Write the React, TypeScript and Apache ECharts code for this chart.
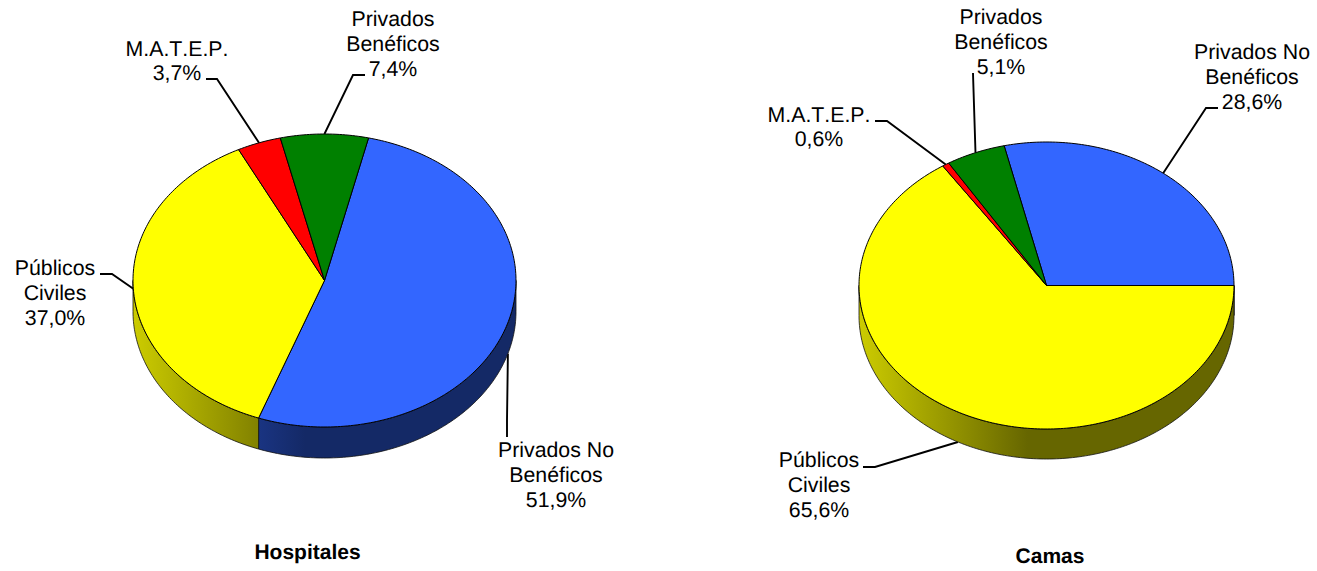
import React, { useEffect, useRef } from "react";
import * as echarts from "echarts";

const categories = ["Privados No\nBenéficos", "Públicos\nCiviles", "M.A.T.E.P.", "Privados\nBenéficos"];
const hospitalesValues = [51.9, 37.0, 3.7, 7.4];
const camasValues = [28.6, 65.6, 0.6, 5.1];
const sliceColors = [[0x33, 0x66, 0xff], [0xff, 0xff, 0x00], [0xff, 0x00, 0x00], [0x00, 0x80, 0x00]];

const FONT = "Liberation Sans";
const FONT_SIZE = 21.3;
const LINE_HEIGHT = 24.6;

const pies = [
  {
    title: "Hospitales", titleX: 307.5, titleY: 552,
    values: hospitalesValues,
    cx: 324.5, cy: 280.5, rx: 191.5, ry: 146.5, depth: 31, startAngle: 13.3,
    labelPos: [[556, 475], [55, 293], [177, 61], [393, 44]],
    leaderPts: [
      [[507, 437], [507, 420]],
      [[100, 274], [112, 274]],
      [[206, 79], [217, 79]],
      [[365, 75], [353, 75]],
    ],
  },
  {
    title: "Camas", titleX: 1050, titleY: 556,
    values: camasValues,
    cx: 1046.5, cy: 285.5, rx: 187.5, ry: 143.5, depth: 30, startAngle: -13.06,
    labelPos: [[1252, 77], [819, 485], [819, 127], [1001, 42]],
    leaderPts: [
      [[1218, 108], [1206, 108]],
      [[863, 467], [875, 467]],
      [[875, 121], [887, 121]],
      [[973, 73], [973.2, 80]],
    ],
  },
];

function pct(v: number) {
  return v.toFixed(1).replace(".", ",") + "%";
}

function scaleColor(c: number[], f: number) {
  return `rgb(${Math.round(c[0] * f)},${Math.round(c[1] * f)},${Math.round(c[2] * f)})`;
}

function sliceAngles(values: number[], start: number) {
  const total = values.reduce((a, b) => a + b, 0);
  let a = start;
  return values.map((v) => {
    const s = a;
    a += (v / total) * 360;
    return [s, a];
  });
}

function pt(p: any, deg: number, dy = 0) {
  const r = (deg * Math.PI) / 180;
  return [p.cx + p.rx * Math.sin(r), p.cy - p.ry * Math.cos(r) + dy];
}

function arc(p: any, a: number, b: number, dy = 0) {
  const n = Math.max(2, Math.ceil(Math.abs(b - a) / 1));
  const out: number[][] = [];
  for (let i = 0; i <= n; i++) out.push(pt(p, a + ((b - a) * i) / n, dy));
  return out;
}

function buildSeries(p: any) {
  const angles = sliceAngles(p.values, p.startAngle);
  const data = p.values.map((v: number) => [v]);
  const base = { type: "custom", coordinateSystem: "none", silent: true, animation: false, data };

  const leaders = {
    ...base,
    z: 1,
    renderItem: (params: any) => {
      const i = params.dataIndex;
      const [a, b] = angles[i];
      const mid = (a + b) / 2;
      const front = Math.cos((mid * Math.PI) / 180) < -0.2;
      const anchor = pt(p, mid, front ? p.depth : 0);
      return {
        type: "polyline",
        shape: { points: [...p.leaderPts[i], anchor] },
        style: { fill: "none", stroke: "#000", lineWidth: 1.9 },
      };
    },
  };

  const walls = {
    ...base,
    z: 2,
    renderItem: (params: any) => {
      const i = params.dataIndex;
      const [a, b] = angles[i];
      const c = sliceColors[i];
      const fill = {
        type: "linear", global: true,
        x: p.cx - p.rx, y: 0, x2: p.cx + p.rx, y2: 0,
        colorStops: [
          { offset: 0, color: scaleColor(c, 0.8) },
          { offset: 0.45, color: scaleColor(c, 0.4) },
          { offset: 1, color: scaleColor(c, 0.4) },
        ],
      };
      const children: any[] = [];
      for (const shift of [0, 360]) {
        const s = Math.max(a, 90 + shift);
        const e = Math.min(b, 270 + shift);
        if (e > s) {
          children.push({
            type: "polygon",
            shape: { points: [...arc(p, s, e), ...arc(p, e, s, p.depth)] },
            style: { fill, stroke: "#111", lineWidth: 0.8 },
          });
        }
      }
      return { type: "group", children };
    },
  };

  const tops = {
    ...base,
    z: 3,
    renderItem: (params: any) => {
      const i = params.dataIndex;
      const [a, b] = angles[i];
      return {
        type: "polygon",
        shape: { points: [[p.cx, p.cy], ...arc(p, a, b)] },
        style: { fill: scaleColor(sliceColors[i], 1), stroke: "#000", lineWidth: 1, lineJoin: "round" },
      };
    },
  };

  const labels = {
    ...base,
    z: 4,
    renderItem: (params: any) => {
      const i = params.dataIndex;
      const [x, y] = p.labelPos[i];
      return {
        type: "text",
        style: {
          text: `${categories[i]}\n${pct(p.values[i])}`,
          x, y,
          align: "center", verticalAlign: "middle",
          fontFamily: FONT, fontSize: FONT_SIZE, lineHeight: LINE_HEIGHT,
          fill: "#000",
        },
      };
    },
  };

  return [leaders, walls, tops, labels];
}

export default function App() {
  const ref = useRef<HTMLDivElement>(null);
  useEffect(() => {
    const chart = echarts.init(ref.current!, null, { renderer: "svg" });
    chart.setOption({
      animation: false,
      backgroundColor: "#fff",
      title: pies.map((p) => ({
        text: p.title,
        left: p.titleX,
        top: p.titleY - 10,
        padding: 0,
        textAlign: "center",
        textStyle: { fontFamily: FONT, fontSize: 21, fontWeight: "bold", color: "#000" },
      })),
      series: pies.flatMap(buildSeries),
    });
    return () => chart.dispose();
  }, []);
  return (
    <div
      ref={ref}
      style={{ position: "absolute", left: 0, top: 0, width: 1317, height: 571, fontKerning: "none", textRendering: "geometricPrecision" }}
    />
  );
}
